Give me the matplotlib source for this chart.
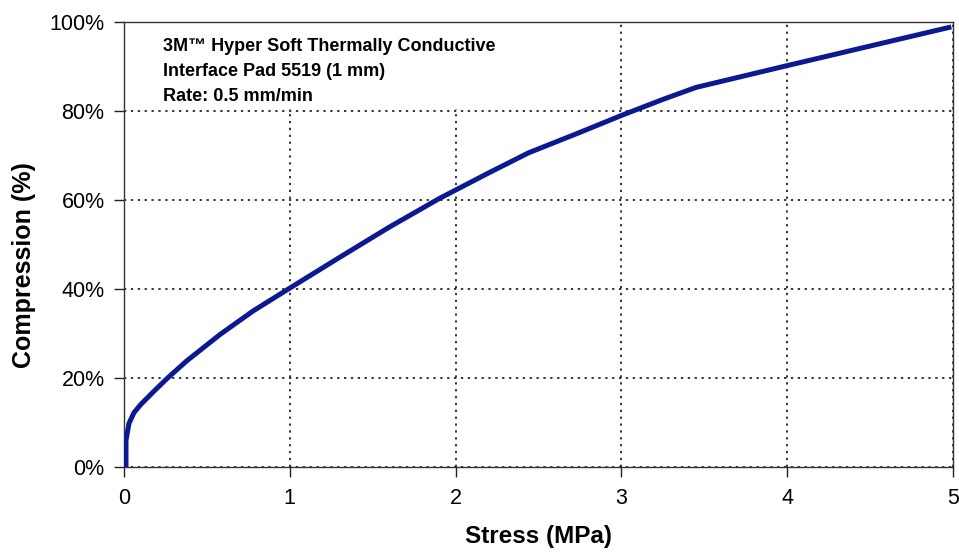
import matplotlib
matplotlib.use("Agg")
import matplotlib.pyplot as plt
from matplotlib.ticker import FuncFormatter
from matplotlib.patches import Rectangle

stress = [0.012, 0.012, 0.03, 0.06, 0.10, 0.18, 0.26, 0.38, 0.58, 0.78, 1.00,
          1.30, 1.60, 1.90, 2.20, 2.44, 2.75, 3.00, 3.25, 3.45,
          4.00, 4.50, 4.99]
compression = [0, 6, 9.8, 12.2, 14.0, 17.0, 19.9, 23.9, 29.8, 35.1, 40.2,
               47.1, 53.9, 60.3, 66.1, 70.6, 75.2, 79, 82.6, 85.3,
               90.2, 94.6, 98.9]
x_ticks = [0, 1, 2, 3, 4, 5]
y_ticks = [0, 20, 40, 60, 80, 100]
annotation = "3M\u2122 Hyper Soft Thermally Conductive\nInterface Pad 5519 (1 mm)\nRate: 0.5 mm/min"

fam = ['Liberation Sans Narrow', 'Liberation Sans', 'DejaVu Sans']
plt.rcParams['font.family'] = fam

fig = plt.figure(figsize=(9.59, 5.52), dpi=100)
ax = fig.add_axes([124/959, 85/552, 829/959, 445/552])

ax.plot(stress, compression, color='#0b1a91', lw=3.6, solid_capstyle='butt',
        solid_joinstyle='round', zorder=3)

ax.set_xlim(0, 5)
ax.set_ylim(0, 100)
ax.set_xticks(x_ticks)
ax.set_yticks(y_ticks)
ax.yaxis.set_major_formatter(FuncFormatter(lambda v, p: f"{int(v)}%"))
ax.tick_params(direction='out', length=7, width=1, labelsize=15.5, color='#222222')
ax.tick_params(axis='x', pad=8)
ax.tick_params(axis='y', pad=7)
ax.grid(True, color='black', linestyle=(0, (1.5, 3)), linewidth=1.1, zorder=1)
for s in ax.spines.values():
    s.set_color('#333333')
    s.set_linewidth(1.0)

# white panel behind the annotation hides the grid there
ax.add_patch(Rectangle((0.005, 0.805), 0.42, 0.19, transform=ax.transAxes,
                       facecolor='white', edgecolor='none', zorder=2))

ax.set_xlabel("Stress (MPa)", fontsize=17.5, fontweight='bold', labelpad=12)
ax.set_ylabel("Compression (%)", fontsize=18, fontweight='bold')
ax.yaxis.set_label_coords(-0.106, 0.454)

ax.text(0.047, 0.965, annotation, transform=ax.transAxes, ha='left', va='top',
        fontsize=13, fontweight='bold', linespacing=1.62, zorder=4)

fig.savefig("out.png", dpi=100)
